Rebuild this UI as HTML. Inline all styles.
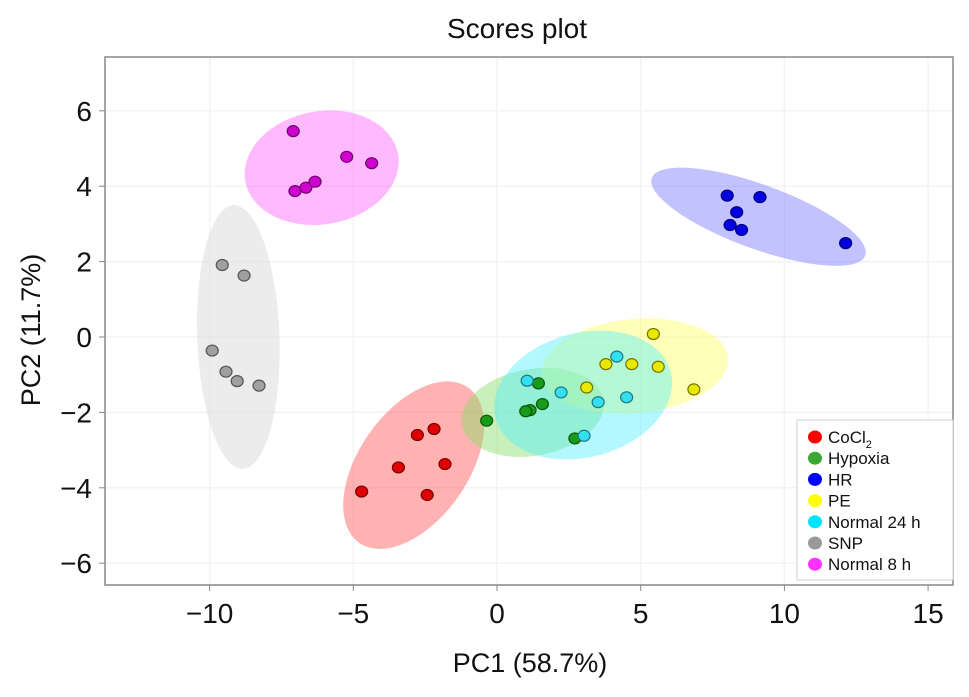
<!DOCTYPE html>
<html><head><meta charset="utf-8"><style>
body{margin:0;background:#fff}
svg text{font-family:"Liberation Sans",sans-serif}
</style></head><body>
<svg id="chart" width="969" height="692" viewBox="0 0 969 692" xmlns="http://www.w3.org/2000/svg">
<text x="517" y="38" font-size="28" text-anchor="middle" fill="#111">Scores plot</text>
<g id="grid"></g>
<g id="ellipses"></g>
<g id="points"></g>
<rect x="105" y="57" width="848" height="528" fill="none" stroke="#888" stroke-width="1.5"/>
<g id="axes"></g>
<text x="530" y="672" font-size="27" text-anchor="middle" fill="#111">PC1 (58.7%)</text>
<text transform="translate(40,330) rotate(-90)" font-size="27" text-anchor="middle" fill="#111">PC2 (11.7%)</text>
<g id="legend"></g>
</svg>
<script>
const xTicks=[-10,-5,0,5,10,15];
const yTicks=[-6,-4,-2,0,2,4,6];
const groups=["CoCl2","Hypoxia","HR","PE","Normal 24 h","SNP","Normal 8 h"];
const cocl2X=[-4.71,-3.43,-2.77,-2.19,-1.81,-2.43];
const cocl2Y=[-4.10,-3.46,-2.60,-2.44,-3.37,-4.19];
const hypoxiaX=[-0.36,1.44,1.58,1.15,1.0,2.71];
const hypoxiaY=[-2.22,-1.23,-1.78,-1.94,-1.97,-2.69];
const hrX=[8.01,9.15,8.34,8.11,8.51,12.13];
const hrY=[3.75,3.71,3.31,2.97,2.84,2.49];
const peX=[5.44,3.79,4.69,5.61,3.12,6.85];
const peY=[0.08,-0.72,-0.72,-0.79,-1.34,-1.39];
const n24X=[1.05,2.23,3.52,4.51,4.17,3.03];
const n24Y=[-1.16,-1.47,-1.73,-1.60,-0.52,-2.62];
const snpX=[-9.56,-8.80,-9.91,-9.43,-9.04,-8.28];
const snpY=[1.91,1.63,-0.36,-0.92,-1.17,-1.29];
const n8X=[-7.09,-5.23,-4.36,-7.03,-6.65,-6.33];
const n8Y=[5.46,4.78,4.61,3.87,3.96,4.12];
// ellipse centers (data units), semi-axes (data units), rotation deg
const ellCX=[-2.9,1.24,9.1,4.8,3.0,-9.0,-6.1];
const ellCY=[-3.4,-2.0,3.19,-0.77,-1.54,0.0,4.49];
const ellRX=[3.3,2.5,3.95,3.25,3.15,1.43,2.7];
const ellRY=[1.45,1.15,0.85,1.25,1.65,3.5,1.5];
const ellRot=[-55,-10,20,-5,-15,-2,-10];

const fill=["#ff0000","#3aa832","#0000ff","#ffff00","#00e5ff","#a8a8a8","#ff33ff"];
const ptFill=["#e00000","#1a9a1a","#0000e0","#e8e800","#33e0f0","#a0a0a0","#d000d0"];
const ptStroke=["#700","#0a5a0a","#000080","#777700","#227788","#555","#700070"];
const ellFill=["#ff5555","#88dd66","#7777ff","#ffff66","#44eeff","#dddddd","#ff66ff"];
const ellOp=[0.45,0.45,0.45,0.45,0.4,0.55,0.45];

const X0=497,XS=28.74,Y0=337,YS=37.7;
const sx=v=>X0+v*XS, sy=v=>Y0-v*YS;
const NS="http://www.w3.org/2000/svg";
function mk(t,a,p){const e=document.createElementNS(NS,t);for(const k in a)e.setAttribute(k,a[k]);p.appendChild(e);return e;}
const grid=document.getElementById('grid'),axes=document.getElementById('axes');
xTicks.forEach(t=>{
 const l=mk('line',{x1:sx(t),x2:sx(t),y1:57,y2:585,stroke:'#f3f3f3','stroke-width':1.5},grid);
 
 
 const tk=mk('line',{x1:sx(t),x2:sx(t),y1:585,y2:591,stroke:'#888'},axes);
 
 
 const tx=mk('text',{x:sx(t),y:623,'font-size':28,'text-anchor':'middle',fill:'#111'},axes);
 tx.textContent=(t<0?'\u2212'+(-t):t);
 
 
});
yTicks.forEach(t=>{
 const l=mk('line',{x1:105,x2:953,y1:sy(t),y2:sy(t),stroke:'#f3f3f3','stroke-width':1.5},grid);
 
 
 const tk=mk('line',{x1:99,x2:105,y1:sy(t),y2:sy(t),stroke:'#888'},axes);
 
 
 const tx=mk('text',{x:92,y:sy(t)+10,'font-size':28,'text-anchor':'end',fill:'#111'},axes);
 tx.textContent=(t<0?'\u2212'+(-t):t);
 
 
});
const eg=document.getElementById('ellipses');
groups.forEach((g,i)=>{
 const cx=sx(ellCX[i]),cy=sy(ellCY[i]);
 const e=mk('ellipse',{cx:cx,cy:cy,rx:ellRX[i]*XS,ry:ellRY[i]*YS,fill:ellFill[i],'fill-opacity':ellOp[i],transform:`rotate(${ellRot[i]} ${cx} ${cy})`},eg);
 
 
});
const xs=[cocl2X,hypoxiaX,hrX,peX,n24X,snpX,n8X],ys=[cocl2Y,hypoxiaY,hrY,peY,n24Y,snpY,n8Y];
const pg=document.getElementById('points');
xs.forEach((arr,i)=>arr.forEach((v,j)=>{
 const c=mk('ellipse',{cx:sx(v),cy:sy(ys[i][j]),rx:6,ry:5.5,fill:ptFill[i],stroke:ptStroke[i],'stroke-width':1.2},pg);
 
 
}));
const lg=document.getElementById('legend');
const box=mk('rect',{x:797,y:420,width:156,height:160,fill:'#fff',stroke:'#ccc'},lg);


groups.forEach((g,i)=>{
 const y=437+i*21.2;
 const d=mk('ellipse',{cx:815,cy:y,rx:7,ry:6.5,fill:fill[i]==="#a8a8a8"?"#999":fill[i]},lg);
 
 
 const t=mk('text',{x:828,y:y+6,'font-size':17,fill:'#111'},lg);
 if(g==="CoCl2"){t.innerHTML='CoCl<tspan font-size="11" dy="5">2</tspan>';}else t.textContent=g;
 
 
});
</script>
</body></html>
